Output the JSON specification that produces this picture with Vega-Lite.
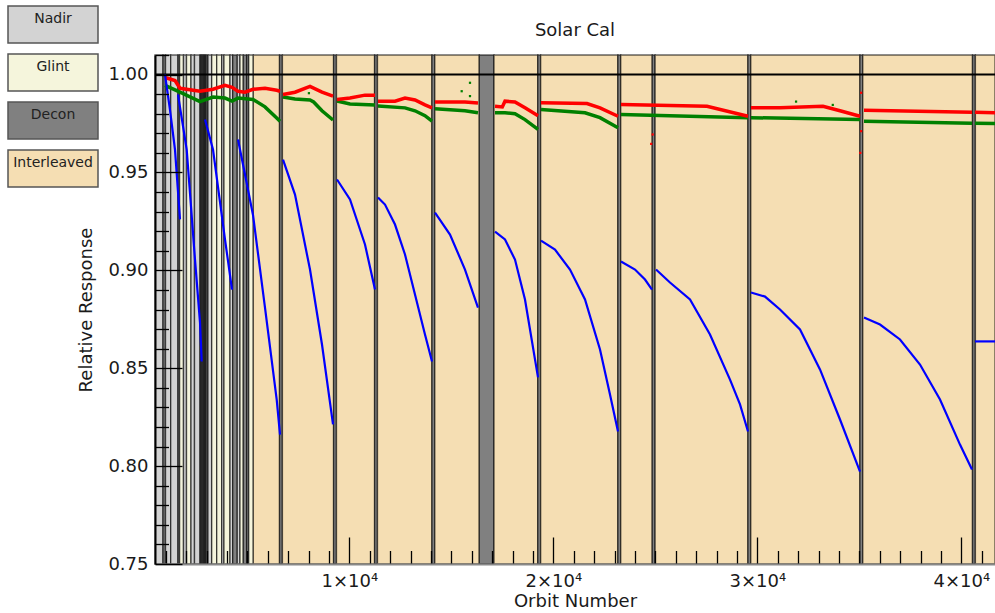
{
  "$schema": "https://vega.github.io/schema/vega-lite/v6.json",
  "width": 840,
  "height": 509,
  "autosize": {"type": "none"},
  "padding": {"left": 155, "top": 55, "right": 0, "bottom": 49},
  "background": "white",
  "title": {"text": "Solar Cal", "fontSize": 18, "font": "DejaVu Sans", "fontWeight": "normal", "offset": 0, "dy": 28, "color": "#1a1a1a"},
  "config": {"view": {"stroke": null}, "font": "DejaVu Sans"},
  "datasets": {
    "bands": [
      {"start": 475, "end": 867, "type": "Nadir"},
      {"start": 867, "end": 990, "type": "Decon"},
      {"start": 990, "end": 1245, "type": "Nadir"},
      {"start": 1245, "end": 1600, "type": "Nadir"},
      {"start": 1600, "end": 1680, "type": "Decon"},
      {"start": 1680, "end": 1872, "type": "Glint"},
      {"start": 1872, "end": 2019, "type": "Nadir"},
      {"start": 2019, "end": 2240, "type": "Glint"},
      {"start": 2240, "end": 2411, "type": "Nadir"},
      {"start": 2411, "end": 2681, "type": "Nadir"},
      {"start": 2681, "end": 2740, "type": "Decon"},
      {"start": 2740, "end": 2800, "type": "Decon"},
      {"start": 2800, "end": 2860, "type": "Decon"},
      {"start": 2860, "end": 2920, "type": "Decon"},
      {"start": 2920, "end": 2980, "type": "Decon"},
      {"start": 2980, "end": 3073, "type": "Decon"},
      {"start": 3073, "end": 3254, "type": "Nadir"},
      {"start": 3254, "end": 3500, "type": "Glint"},
      {"start": 3500, "end": 3745, "type": "Glint"},
      {"start": 3745, "end": 3857, "type": "Nadir"},
      {"start": 3857, "end": 4152, "type": "Glint"},
      {"start": 4152, "end": 4284, "type": "Nadir"},
      {"start": 4284, "end": 4509, "type": "Decon"},
      {"start": 4509, "end": 4642, "type": "Nadir"},
      {"start": 4642, "end": 4803, "type": "Glint"},
      {"start": 4803, "end": 4970, "type": "Decon"},
      {"start": 4970, "end": 5068, "type": "Decon"},
      {"start": 5068, "end": 5294, "type": "Glint"},
      {"start": 5294, "end": 6580, "type": "Interleaved"},
      {"start": 6580, "end": 6720, "type": "Decon"},
      {"start": 6720, "end": 9230, "type": "Interleaved"},
      {"start": 9230, "end": 9370, "type": "Decon"},
      {"start": 9370, "end": 11240, "type": "Interleaved"},
      {"start": 11240, "end": 11380, "type": "Decon"},
      {"start": 11380, "end": 14050, "type": "Interleaved"},
      {"start": 14050, "end": 14190, "type": "Decon"},
      {"start": 14190, "end": 16372, "type": "Interleaved"},
      {"start": 16372, "end": 17093, "type": "Decon"},
      {"start": 17093, "end": 19240, "type": "Interleaved"},
      {"start": 19240, "end": 19380, "type": "Decon"},
      {"start": 19380, "end": 23165, "type": "Interleaved"},
      {"start": 23165, "end": 23305, "type": "Decon"},
      {"start": 23305, "end": 24850, "type": "Interleaved"},
      {"start": 24850, "end": 24990, "type": "Decon"},
      {"start": 24990, "end": 29540, "type": "Interleaved"},
      {"start": 29540, "end": 29680, "type": "Decon"},
      {"start": 29680, "end": 35030, "type": "Interleaved"},
      {"start": 35030, "end": 35170, "type": "Decon"},
      {"start": 35170, "end": 40550, "type": "Interleaved"},
      {"start": 40550, "end": 40690, "type": "Decon"},
      {"start": 40690, "end": 41652, "type": "Interleaved"}
    ],
    "ref": [{"level": 1.0}],
    "curves": [
      {"series": "Blue", "seg": "b1", "orbit": 965, "response": 1.0},
      {"series": "Blue", "seg": "b1", "orbit": 1210, "response": 0.982},
      {"series": "Blue", "seg": "b1", "orbit": 1455, "response": 0.9617},
      {"series": "Blue", "seg": "b1", "orbit": 1700, "response": 0.926},
      {"series": "Blue", "seg": "b2", "orbit": 1602, "response": 0.9898},
      {"series": "Blue", "seg": "b2", "orbit": 2029, "response": 0.9617},
      {"series": "Blue", "seg": "b2", "orbit": 2436, "response": 0.9055},
      {"series": "Blue", "seg": "b2", "orbit": 2681, "response": 0.8734},
      {"series": "Blue", "seg": "b2", "orbit": 2764, "response": 0.8534},
      {"series": "Blue", "seg": "b3", "orbit": 2926, "response": 0.9771},
      {"series": "Blue", "seg": "b3", "orbit": 3318, "response": 0.9617},
      {"series": "Blue", "seg": "b3", "orbit": 3906, "response": 0.9158},
      {"series": "Blue", "seg": "b3", "orbit": 4250, "response": 0.8902},
      {"series": "Blue", "seg": "b4", "orbit": 4544, "response": 0.9668},
      {"series": "Blue", "seg": "b4", "orbit": 4887, "response": 0.949},
      {"series": "Blue", "seg": "b4", "orbit": 5279, "response": 0.9283},
      {"series": "Blue", "seg": "b4", "orbit": 5867, "response": 0.881},
      {"series": "Blue", "seg": "b4", "orbit": 6441, "response": 0.834},
      {"series": "Blue", "seg": "b4", "orbit": 6603, "response": 0.8161},
      {"series": "Blue", "seg": "b5", "orbit": 6750, "response": 0.9566},
      {"series": "Blue", "seg": "b5", "orbit": 7338, "response": 0.9387},
      {"series": "Blue", "seg": "b5", "orbit": 8073, "response": 0.9004},
      {"series": "Blue", "seg": "b5", "orbit": 8661, "response": 0.8621},
      {"series": "Blue", "seg": "b5", "orbit": 9201, "response": 0.8213},
      {"series": "Blue", "seg": "b6", "orbit": 9397, "response": 0.9464},
      {"series": "Blue", "seg": "b6", "orbit": 10034, "response": 0.9362},
      {"series": "Blue", "seg": "b6", "orbit": 10769, "response": 0.9132},
      {"series": "Blue", "seg": "b6", "orbit": 11259, "response": 0.8902},
      {"series": "Blue", "seg": "b7", "orbit": 11406, "response": 0.9372},
      {"series": "Blue", "seg": "b7", "orbit": 11750, "response": 0.9336},
      {"series": "Blue", "seg": "b7", "orbit": 12240, "response": 0.9234},
      {"series": "Blue", "seg": "b7", "orbit": 12730, "response": 0.9081},
      {"series": "Blue", "seg": "b7", "orbit": 13220, "response": 0.8877},
      {"series": "Blue", "seg": "b7", "orbit": 13710, "response": 0.8672},
      {"series": "Blue", "seg": "b7", "orbit": 14054, "response": 0.8534},
      {"series": "Blue", "seg": "b8", "orbit": 14201, "response": 0.9295},
      {"series": "Blue", "seg": "b8", "orbit": 14936, "response": 0.9183},
      {"series": "Blue", "seg": "b8", "orbit": 15671, "response": 0.9004},
      {"series": "Blue", "seg": "b8", "orbit": 16308, "response": 0.881},
      {"series": "Blue", "seg": "b9", "orbit": 17142, "response": 0.9198},
      {"series": "Blue", "seg": "b9", "orbit": 17632, "response": 0.9158},
      {"series": "Blue", "seg": "b9", "orbit": 18122, "response": 0.9055},
      {"series": "Blue", "seg": "b9", "orbit": 18612, "response": 0.8851},
      {"series": "Blue", "seg": "b9", "orbit": 19250, "response": 0.8453},
      {"series": "Blue", "seg": "b10", "orbit": 19397, "response": 0.9152},
      {"series": "Blue", "seg": "b10", "orbit": 20083, "response": 0.9106},
      {"series": "Blue", "seg": "b10", "orbit": 20818, "response": 0.9004},
      {"series": "Blue", "seg": "b10", "orbit": 21554, "response": 0.8851},
      {"series": "Blue", "seg": "b10", "orbit": 22289, "response": 0.8596},
      {"series": "Blue", "seg": "b10", "orbit": 22779, "response": 0.8366},
      {"series": "Blue", "seg": "b10", "orbit": 23171, "response": 0.8177},
      {"series": "Blue", "seg": "b11", "orbit": 23318, "response": 0.9045},
      {"series": "Blue", "seg": "b11", "orbit": 24005, "response": 0.9004},
      {"series": "Blue", "seg": "b11", "orbit": 24495, "response": 0.8953},
      {"series": "Blue", "seg": "b11", "orbit": 24838, "response": 0.8902},
      {"series": "Blue", "seg": "b12", "orbit": 25034, "response": 0.9004},
      {"series": "Blue", "seg": "b12", "orbit": 25720, "response": 0.8938},
      {"series": "Blue", "seg": "b12", "orbit": 26701, "response": 0.8851},
      {"series": "Blue", "seg": "b12", "orbit": 27681, "response": 0.8672},
      {"series": "Blue", "seg": "b12", "orbit": 28662, "response": 0.8442},
      {"series": "Blue", "seg": "b12", "orbit": 29152, "response": 0.8315},
      {"series": "Blue", "seg": "b12", "orbit": 29544, "response": 0.8177},
      {"series": "Blue", "seg": "b13", "orbit": 29691, "response": 0.8887},
      {"series": "Blue", "seg": "b13", "orbit": 30377, "response": 0.8866},
      {"series": "Blue", "seg": "b13", "orbit": 31113, "response": 0.88},
      {"series": "Blue", "seg": "b13", "orbit": 32093, "response": 0.8698},
      {"series": "Blue", "seg": "b13", "orbit": 33073, "response": 0.8494},
      {"series": "Blue", "seg": "b13", "orbit": 34054, "response": 0.8238},
      {"series": "Blue", "seg": "b13", "orbit": 35034, "response": 0.7972},
      {"series": "Blue", "seg": "b14", "orbit": 35230, "response": 0.8759},
      {"series": "Blue", "seg": "b14", "orbit": 36015, "response": 0.8723},
      {"series": "Blue", "seg": "b14", "orbit": 36995, "response": 0.8647},
      {"series": "Blue", "seg": "b14", "orbit": 37975, "response": 0.8519},
      {"series": "Blue", "seg": "b14", "orbit": 38956, "response": 0.834},
      {"series": "Blue", "seg": "b14", "orbit": 39936, "response": 0.811},
      {"series": "Blue", "seg": "b14", "orbit": 40524, "response": 0.7983},
      {"series": "Blue", "seg": "b15", "orbit": 40671, "response": 0.8637},
      {"series": "Blue", "seg": "b15", "orbit": 41652, "response": 0.8637},

      {"series": "Red", "seg": "r1", "orbit": 965, "response": 0.9985},
      {"series": "Red", "seg": "r1", "orbit": 1455, "response": 0.997},
      {"series": "Red", "seg": "r1", "orbit": 1700, "response": 0.993},
      {"series": "Red", "seg": "r1", "orbit": 2681, "response": 0.9915},
      {"series": "Red", "seg": "r1", "orbit": 3318, "response": 0.9925},
      {"series": "Red", "seg": "r1", "orbit": 3906, "response": 0.9945},
      {"series": "Red", "seg": "r1", "orbit": 4250, "response": 0.9935},
      {"series": "Red", "seg": "r1", "orbit": 4544, "response": 0.9915},
      {"series": "Red", "seg": "r1", "orbit": 4887, "response": 0.991},
      {"series": "Red", "seg": "r1", "orbit": 5279, "response": 0.9925},
      {"series": "Red", "seg": "r1", "orbit": 5867, "response": 0.993},
      {"series": "Red", "seg": "r1", "orbit": 6441, "response": 0.992},
      {"series": "Red", "seg": "r1", "orbit": 6603, "response": 0.9915},
      {"series": "Red", "seg": "r2", "orbit": 6750, "response": 0.9898},
      {"series": "Red", "seg": "r2", "orbit": 7338, "response": 0.991},
      {"series": "Red", "seg": "r2", "orbit": 8073, "response": 0.994},
      {"series": "Red", "seg": "r2", "orbit": 8661, "response": 0.991},
      {"series": "Red", "seg": "r2", "orbit": 9201, "response": 0.989},
      {"series": "Red", "seg": "r3", "orbit": 9397, "response": 0.9873},
      {"series": "Red", "seg": "r3", "orbit": 10034, "response": 0.988},
      {"series": "Red", "seg": "r3", "orbit": 10769, "response": 0.9895},
      {"series": "Red", "seg": "r3", "orbit": 11259, "response": 0.9895},
      {"series": "Red", "seg": "r4", "orbit": 11406, "response": 0.9864},
      {"series": "Red", "seg": "r4", "orbit": 12240, "response": 0.9864},
      {"series": "Red", "seg": "r4", "orbit": 12730, "response": 0.988},
      {"series": "Red", "seg": "r4", "orbit": 13220, "response": 0.987},
      {"series": "Red", "seg": "r4", "orbit": 13710, "response": 0.9845},
      {"series": "Red", "seg": "r4", "orbit": 14054, "response": 0.983},
      {"series": "Red", "seg": "r5", "orbit": 14201, "response": 0.986},
      {"series": "Red", "seg": "r5", "orbit": 15671, "response": 0.986},
      {"series": "Red", "seg": "r5", "orbit": 16308, "response": 0.9855},
      {"series": "Red", "seg": "r6", "orbit": 17142, "response": 0.9838},
      {"series": "Red", "seg": "r6", "orbit": 17500, "response": 0.9835},
      {"series": "Red", "seg": "r6", "orbit": 17632, "response": 0.9864},
      {"series": "Red", "seg": "r6", "orbit": 18122, "response": 0.986},
      {"series": "Red", "seg": "r6", "orbit": 18612, "response": 0.983},
      {"series": "Red", "seg": "r6", "orbit": 19250, "response": 0.979},
      {"series": "Red", "seg": "r7", "orbit": 19397, "response": 0.9856},
      {"series": "Red", "seg": "r7", "orbit": 21651, "response": 0.9852},
      {"series": "Red", "seg": "r7", "orbit": 22289, "response": 0.983},
      {"series": "Red", "seg": "r7", "orbit": 23171, "response": 0.9787},
      {"series": "Red", "seg": "r8", "orbit": 23318, "response": 0.9847},
      {"series": "Red", "seg": "r8", "orbit": 27534, "response": 0.9838},
      {"series": "Red", "seg": "r8", "orbit": 29544, "response": 0.9787},
      {"series": "Red", "seg": "r9", "orbit": 29691, "response": 0.983},
      {"series": "Red", "seg": "r9", "orbit": 31113, "response": 0.983},
      {"series": "Red", "seg": "r9", "orbit": 33220, "response": 0.9838},
      {"series": "Red", "seg": "r9", "orbit": 34054, "response": 0.9815},
      {"series": "Red", "seg": "r9", "orbit": 35034, "response": 0.9787},
      {"series": "Red", "seg": "r10", "orbit": 35230, "response": 0.9818},
      {"series": "Red", "seg": "r10", "orbit": 40524, "response": 0.9808},
      {"series": "Red", "seg": "r11", "orbit": 40671, "response": 0.9808},
      {"series": "Red", "seg": "r11", "orbit": 41652, "response": 0.9805},

      {"series": "Green", "seg": "g1", "orbit": 965, "response": 0.9945},
      {"series": "Green", "seg": "g1", "orbit": 1700, "response": 0.991},
      {"series": "Green", "seg": "g1", "orbit": 2681, "response": 0.9862},
      {"series": "Green", "seg": "g1", "orbit": 3318, "response": 0.9885},
      {"series": "Green", "seg": "g1", "orbit": 3906, "response": 0.988},
      {"series": "Green", "seg": "g1", "orbit": 4250, "response": 0.9865},
      {"series": "Green", "seg": "g1", "orbit": 4544, "response": 0.988},
      {"series": "Green", "seg": "g1", "orbit": 5279, "response": 0.9873},
      {"series": "Green", "seg": "g1", "orbit": 5867, "response": 0.9835},
      {"series": "Green", "seg": "g1", "orbit": 6441, "response": 0.9778},
      {"series": "Green", "seg": "g1", "orbit": 6603, "response": 0.9762},
      {"series": "Green", "seg": "g2", "orbit": 6750, "response": 0.9885},
      {"series": "Green", "seg": "g2", "orbit": 7338, "response": 0.9875},
      {"series": "Green", "seg": "g2", "orbit": 8073, "response": 0.987},
      {"series": "Green", "seg": "g2", "orbit": 8250, "response": 0.986},
      {"series": "Green", "seg": "g2", "orbit": 8661, "response": 0.9815},
      {"series": "Green", "seg": "g2", "orbit": 9201, "response": 0.9768},
      {"series": "Green", "seg": "g3", "orbit": 9397, "response": 0.9865},
      {"series": "Green", "seg": "g3", "orbit": 10034, "response": 0.985},
      {"series": "Green", "seg": "g3", "orbit": 11259, "response": 0.9845},
      {"series": "Green", "seg": "g4", "orbit": 11406, "response": 0.984},
      {"series": "Green", "seg": "g4", "orbit": 12730, "response": 0.983},
      {"series": "Green", "seg": "g4", "orbit": 13220, "response": 0.9815},
      {"series": "Green", "seg": "g4", "orbit": 13710, "response": 0.979},
      {"series": "Green", "seg": "g4", "orbit": 14054, "response": 0.9762},
      {"series": "Green", "seg": "g5", "orbit": 14201, "response": 0.9825},
      {"series": "Green", "seg": "g5", "orbit": 15671, "response": 0.9815},
      {"series": "Green", "seg": "g5", "orbit": 16308, "response": 0.9805},
      {"series": "Green", "seg": "g6", "orbit": 17142, "response": 0.9805},
      {"series": "Green", "seg": "g6", "orbit": 17632, "response": 0.9805},
      {"series": "Green", "seg": "g6", "orbit": 18122, "response": 0.98},
      {"series": "Green", "seg": "g6", "orbit": 18612, "response": 0.977},
      {"series": "Green", "seg": "g6", "orbit": 19250, "response": 0.972},
      {"series": "Green", "seg": "g7", "orbit": 19397, "response": 0.9822},
      {"series": "Green", "seg": "g7", "orbit": 21554, "response": 0.9805},
      {"series": "Green", "seg": "g7", "orbit": 22289, "response": 0.978},
      {"series": "Green", "seg": "g7", "orbit": 23171, "response": 0.9728},
      {"series": "Green", "seg": "g8", "orbit": 23318, "response": 0.9796},
      {"series": "Green", "seg": "g8", "orbit": 29544, "response": 0.9779},
      {"series": "Green", "seg": "g9", "orbit": 29691, "response": 0.978},
      {"series": "Green", "seg": "g9", "orbit": 35034, "response": 0.977},
      {"series": "Green", "seg": "g10", "orbit": 35230, "response": 0.9762},
      {"series": "Green", "seg": "g10", "orbit": 40524, "response": 0.9752},
      {"series": "Green", "seg": "g11", "orbit": 40671, "response": 0.9752},
      {"series": "Green", "seg": "g11", "orbit": 41652, "response": 0.975}
    ],
    "outliers": [
      {"series": "Green", "orbit": 15916, "response": 0.9958},
      {"series": "Green", "orbit": 15509, "response": 0.9915},
      {"series": "Green", "orbit": 15916, "response": 0.989},
      {"series": "Green", "orbit": 8020, "response": 0.9905},
      {"series": "Green", "orbit": 31900, "response": 0.9862},
      {"series": "Green", "orbit": 33700, "response": 0.9845},
      {"series": "Red", "orbit": 24870, "response": 0.9694},
      {"series": "Red", "orbit": 24800, "response": 0.9646},
      {"series": "Red", "orbit": 35090, "response": 0.9907},
      {"series": "Red", "orbit": 35090, "response": 0.9711},
      {"series": "Red", "orbit": 35050, "response": 0.96}
    ]
  },
  "layer": [
    {
      "data": {"name": "bands"},
      "mark": {"type": "rect", "stroke": "black", "strokeWidth": 1.4, "strokeOpacity": 0.6},
      "encoding": {
        "x": {"field": "start", "type": "quantitative", "scale": {"domain": [475, 41652], "nice": false, "zero": false},
          "axis": {"orient": "bottom", "values": [1000, 2000, 3000, 4000, 5000, 6000, 7000, 8000, 9000, 11000, 12000, 13000, 14000, 15000, 16000, 17000, 18000, 19000, 21000, 22000, 23000, 24000, 25000, 26000, 27000, 28000, 29000, 31000, 32000, 33000, 34000, 35000, 36000, 37000, 38000, 39000, 41000],
            "labels": false, "domain": false, "grid": false, "title": null, "tickSize": -13.5, "tickColor": "black", "tickWidth": 1.3, "zindex": 1}},
        "x2": {"field": "end"},
        "fill": {"field": "type", "type": "nominal",
          "scale": {"domain": ["Nadir", "Glint", "Decon", "Interleaved"], "range": ["#d3d3d3", "#f5f5dc", "#808080", "#f5deb3"]},
          "legend": {"orient": "none", "legendX": -109, "legendY": -43, "title": null,
            "symbolType": "M-9,-2.6H9V4.8H-9Z", "symbolSize": 100, "symbolStrokeColor": "#555555", "symbolStrokeWidth": 1.5,
            "symbolOpacity": 1, "labelOffset": -7, "labelAlign": "center", "labelFontSize": 14, "labelFont": "DejaVu Sans",
            "labelColor": "#222222", "rowPadding": 5, "padding": 0}}
      }
    },
    {
      "data": {"name": "ref"},
      "mark": {"type": "rule", "color": "black", "strokeWidth": 2},
      "encoding": {
        "y": {"field": "level", "type": "quantitative", "scale": {"domain": [0.75, 1.01], "nice": false, "zero": false},
          "axis": {"orient": "left", "values": [0.76, 0.77, 0.78, 0.79, 0.81, 0.82, 0.83, 0.84, 0.86, 0.87, 0.88, 0.89, 0.91, 0.92, 0.93, 0.94, 0.96, 0.97, 0.98, 0.99, 1.01],
            "labels": false, "domain": false, "grid": false, "title": null, "tickSize": -13.5, "tickColor": "black", "tickWidth": 1.3, "zindex": 1}}
      }
    },
    {
      "data": {"name": "curves"},
      "transform": [{"filter": "datum.series == 'Green'"}],
      "mark": {"type": "line", "color": "#008000", "strokeWidth": 3.5},
      "encoding": {
        "x": {"field": "orbit", "type": "quantitative", "scale": {"domain": [475, 41652], "nice": false, "zero": false},
          "axis": {"orient": "bottom", "values": [10000, 20000, 30000, 40000], "labelExpr": "format(datum.value/10000, 'd') + '×10⁴'",
            "tickSize": -27, "tickColor": "black", "tickWidth": 1.3, "domainColor": "#888888", "domainWidth": 2, "grid": false,
            "labelFontSize": 18, "labelColor": "#1a1a1a", "labelPadding": 35, "title": "Orbit Number", "titleFontSize": 18,
            "titleFontWeight": "normal", "titleColor": "#1a1a1a", "titlePadding": 2, "zindex": 1}},
        "y": {"field": "response", "type": "quantitative", "scale": {"domain": [0.75, 1.01], "nice": false, "zero": false},
          "axis": {"orient": "left", "values": [0.75, 0.8, 0.85, 0.9, 0.95, 1.0], "format": ".2f",
            "tickSize": -27, "tickColor": "black", "tickWidth": 1.3, "domainColor": "black", "domainWidth": 2, "grid": false,
            "labelFontSize": 18, "labelColor": "#1a1a1a", "labelPadding": 34, "title": "Relative Response", "titleFontSize": 18,
            "titleFontWeight": "normal", "titleColor": "#1a1a1a", "titlePadding": 12, "zindex": 1}},
        "detail": {"field": "seg", "type": "nominal"}
      }
    },
    {
      "data": {"name": "curves"},
      "transform": [{"filter": "datum.series == 'Red'"}],
      "mark": {"type": "line", "color": "#ff0000", "strokeWidth": 3.5},
      "encoding": {
        "x": {"field": "orbit", "type": "quantitative", "scale": {"domain": [475, 41652], "nice": false, "zero": false}, "axis": null},
        "y": {"field": "response", "type": "quantitative", "scale": {"domain": [0.75, 1.01], "nice": false, "zero": false}, "axis": null},
        "detail": {"field": "seg", "type": "nominal"}
      }
    },
    {
      "data": {"name": "curves"},
      "transform": [{"filter": "datum.series == 'Blue'"}],
      "mark": {"type": "line", "color": "#0000ff", "strokeWidth": 2.2},
      "encoding": {
        "x": {"field": "orbit", "type": "quantitative", "scale": {"domain": [475, 41652], "nice": false, "zero": false}, "axis": null},
        "y": {"field": "response", "type": "quantitative", "scale": {"domain": [0.75, 1.01], "nice": false, "zero": false}, "axis": null},
        "detail": {"field": "seg", "type": "nominal"}
      }
    },
    {
      "data": {"name": "outliers"},
      "mark": {"type": "square", "size": 5, "opacity": 1},
      "encoding": {
        "x": {"field": "orbit", "type": "quantitative", "scale": {"domain": [475, 41652], "nice": false, "zero": false}, "axis": null},
        "y": {"field": "response", "type": "quantitative", "scale": {"domain": [0.75, 1.01], "nice": false, "zero": false}, "axis": null},
        "color": {"field": "series", "type": "nominal", "scale": {"domain": ["Red", "Green", "Blue"], "range": ["#ff0000", "#008000", "#0000ff"]}, "legend": null}
      }
    }
  ],
  "resolve": {"axis": {"x": "independent", "y": "independent"}}
}
